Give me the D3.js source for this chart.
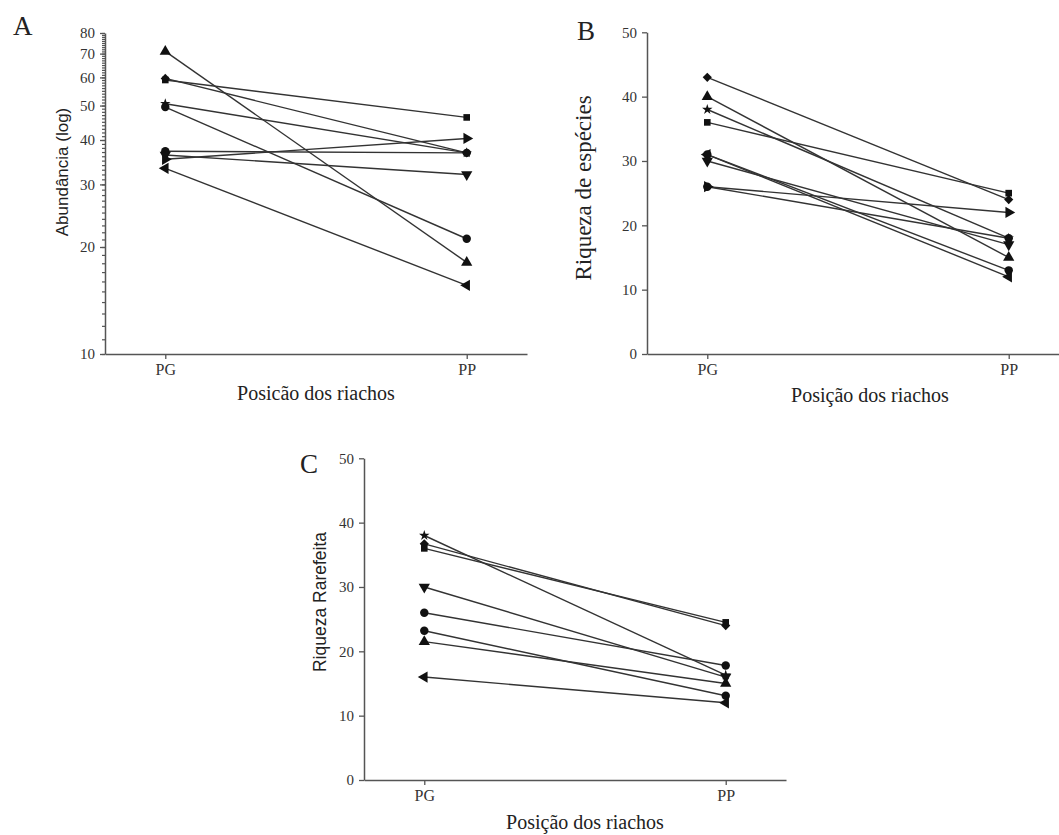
<!DOCTYPE html>
<html>
<head>
<meta charset="utf-8">
<script src="https://cdn.jsdelivr.net/npm/d3@7"></script>
<style>
  body { margin: 0; background: #fff; }
  svg { display: block; }
  .tick text { font-family: "Liberation Serif", serif; fill: #333; }
</style>
</head>
<body>
<div id="chart"></div>
<script>
// positions on the x axis
var positions = ["PG", "PP"];

// Panel A - abundance (log)
var abundShapes = ["triUp", "square", "diamond", "star", "circle", "circle", "triRight", "triDown", "triLeft"];
var abundPG = [71, 59, 59.6, 50.6, 49.5, 37.2, 35.3, 36.3, 33.3];
var abundPP = [18.1, 46.3, 36.8, 36.8, 21.1, 36.8, 40.4, 32.0, 15.6];
var abundTicks = [10, 20, 30, 40, 50, 60, 70, 80];

// Panel B - species richness
var richShapes = ["diamond", "triUp", "star", "square", "circle", "triLeft", "triDown", "circle", "triRight"];
var richPG = [43, 40, 38, 36, 31, 31, 30, 26, 26];
var richPP = [24, 15, 18, 25, 13, 12, 17, 18, 22];

// Panel C - rarefied richness
var rareShapes = ["star", "diamond", "square", "triDown", "circle", "circle", "triUp", "triLeft"];
var rarePG = [38, 36.7, 36, 30, 26, 23.2, 21.5, 16];
var rarePP = [16.3, 24, 24.5, 16, 17.8, 13.1, 15, 12];

var linearTicks = [0, 10, 20, 30, 40, 50];

var width = 1059, height = 835;
var svg = d3.select("#chart").append("svg")
  .attr("width", width)
  .attr("height", height);

var lineColor = "#333";
var axisColor = "#555";

// symbol path for each marker name
function symbolPath(name) {
  var type = d3.symbolTriangle, size = 55;
  if (name == "square") { type = d3.symbolSquare; size = 44; }
  else if (name == "diamond") { type = d3.symbolSquare; size = 42; }
  else if (name == "star") { type = d3.symbolStar; size = 34; }
  else if (name == "circle") { type = d3.symbolCircle; size = 56; }
  return d3.symbol().type(type).size(size)();
}
function symbolRotate(name) {
  if (name == "triDown") return 180;
  if (name == "triLeft") return -90;
  if (name == "triRight") return 90;
  if (name == "diamond") return 45;
  return 0;
}

function drawPanel(p) {
  var g = svg.append("g");

  var x = d3.scalePoint().domain(positions)
    .range([p.left, p.left + 422]).padding(0.2);
  var y = p.log
    ? d3.scaleLog().domain([10, 80]).range([p.bottom, p.top])
    : d3.scaleLinear().domain([0, 50]).range([p.bottom, p.top]);

  // minor ticks for the log axis
  if (p.log) {
    g.append("g")
      .attr("transform", "translate(" + p.left + ",0)")
      .call(d3.axisLeft(y).tickValues(d3.range(10, 81)).tickSize(3).tickFormat(""))
      .call(function (a) { a.select(".domain").remove(); })
      .selectAll("line").attr("stroke", axisColor).attr("stroke-width", 1.2);
  }

  // y axis
  var yAxis = g.append("g")
    .attr("transform", "translate(" + p.left + ",0)")
    .call(d3.axisLeft(y).tickValues(p.ticks).tickSize(5).tickSizeOuter(0)
      .tickPadding(5).tickFormat(d3.format("d")));
  yAxis.select(".domain").attr("stroke", axisColor).attr("stroke-width", 1.5);
  yAxis.selectAll(".tick line").attr("stroke", axisColor).attr("stroke-width", 1.3);
  yAxis.selectAll(".tick text").style("font-size", "15px");

  // x axis
  var xAxis = g.append("g")
    .attr("transform", "translate(0," + p.bottom + ")")
    .call(d3.axisBottom(x).tickSize(5).tickSizeOuter(0).tickPadding(5));
  xAxis.select(".domain").attr("stroke", axisColor).attr("stroke-width", 1.5);
  xAxis.selectAll(".tick line").attr("stroke", axisColor).attr("stroke-width", 1.3);
  xAxis.selectAll(".tick text").style("font-size", "16px");

  // connecting lines
  var rows = p.pg.map(function (v, i) {
    return { shape: p.shapes[i], pg: v, pp: p.pp[i] };
  });
  g.append("g").selectAll("line.link")
    .data(rows)
    .enter()
    .append("line")
    .attr("class", "link")
    .attr("x1", x("PG")).attr("x2", x("PP"))
    .attr("y1", function (d) { return y(d.pg); })
    .attr("y2", function (d) { return y(d.pp); })
    .attr("stroke", lineColor)
    .attr("stroke-width", 1.4);

  // markers at both ends
  var pts = [];
  rows.forEach(function (d) {
    pts.push({ shape: d.shape, pos: "PG", v: d.pg });
    pts.push({ shape: d.shape, pos: "PP", v: d.pp });
  });
  g.append("g").selectAll("path.mark")
    .data(pts)
    .enter()
    .append("path")
    .attr("class", "mark")
    .attr("d", function (d) { return symbolPath(d.shape); })
    .attr("transform", function (d) {
      return "translate(" + x(d.pos) + "," + y(d.v) + ") rotate(" + symbolRotate(d.shape) + ")";
    })
    .attr("fill", "#111");

  // panel letter
  g.append("text")
    .attr("x", p.letterX).attr("y", p.letterY)
    .style("font-family", "'Liberation Serif', serif")
    .style("font-size", "27px")
    .attr("fill", "#222")
    .text(p.letter);

  // y title
  g.append("text")
    .attr("transform", "translate(" + p.yTitleX + "," + p.yTitleY + ") rotate(-90)")
    .attr("text-anchor", "middle")
    .attr("dominant-baseline", "central")
    .style("font-family", p.yTitleFont)
    .style("font-size", p.yTitleSize)
    .attr("fill", "#222")
    .text(p.yTitle);

  // x title
  g.append("text")
    .attr("x", p.xTitleX).attr("y", p.xTitleY)
    .attr("text-anchor", "middle")
    .style("font-family", "'Liberation Serif', serif")
    .style("font-size", "20px")
    .attr("fill", "#222")
    .text(p.xTitle);
}

drawPanel({
  letter: "A", letterX: 13, letterY: 35,
  left: 105, top: 33, bottom: 354, log: true, ticks: abundTicks,
  shapes: abundShapes, pg: abundPG, pp: abundPP,
  yTitle: "Abundância (log)", yTitleX: 62, yTitleY: 172,
  yTitleFont: "'Liberation Sans', Arial, sans-serif", yTitleSize: "17px",
  xTitle: "Posicão dos riachos", xTitleX: 316, xTitleY: 400
});

drawPanel({
  letter: "B", letterX: 577, letterY: 40,
  left: 647, top: 32.3, bottom: 354, log: false, ticks: linearTicks,
  shapes: richShapes, pg: richPG, pp: richPP,
  yTitle: "Riqueza de espécies", yTitleX: 583, yTitleY: 188,
  yTitleFont: "'Liberation Serif', serif", yTitleSize: "23px",
  xTitle: "Posição dos riachos", xTitleX: 870, xTitleY: 402
});

drawPanel({
  letter: "C", letterX: 300, letterY: 473,
  left: 364, top: 458.3, bottom: 780, log: false, ticks: linearTicks,
  shapes: rareShapes, pg: rarePG, pp: rarePP,
  yTitle: "Riqueza Rarefeita", yTitleX: 320, yTitleY: 602,
  yTitleFont: "'Liberation Sans', Arial, sans-serif", yTitleSize: "17.5px",
  xTitle: "Posição dos riachos", xTitleX: 585, xTitleY: 829
});
</script>
</body>
</html>
